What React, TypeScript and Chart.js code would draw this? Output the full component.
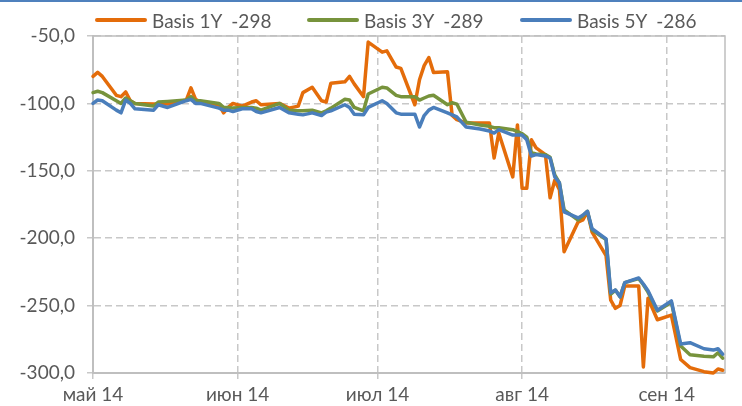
import React, { useEffect, useRef } from 'react';
import { Chart, registerables } from 'chart.js';

Chart.register(...registerables);

// days since 1 May 2014
const days = [0, 1, 2, 5, 6, 7, 8, 9, 13, 14, 16, 20, 21, 22, 23, 27, 28, 29, 30, 32, 34, 35, 36, 40, 42, 44, 45, 47, 49, 50, 51, 54, 55, 56, 58, 59, 62, 63, 65, 66, 69, 70, 71, 72, 73, 76, 77, 78, 80, 83, 85, 86, 87, 90, 91, 92, 93, 94, 95, 97, 98, 99, 100, 101, 104, 105, 106, 107, 110, 111, 112, 113, 114, 117, 118, 119, 121, 124, 126, 128, 131, 133, 134, 135];

const basis1Y = [-80, -77, -80, -94, -95, -91.5, -98, -100, -100.5, -100.5, -100.5, -97.5, -88.5, -97, -99, -101, -107, -103, -100, -102, -99, -98, -101, -100, -103.5, -102, -92, -88, -98, -99, -85, -84, -80, -85.5, -95, -54.5, -62, -61, -73, -74, -101, -82.5, -72, -66, -77, -76.5, -109, -112, -114.5, -114.5, -114.5, -140.5, -122, -154.5, -116, -163, -163, -127, -133, -138, -170, -157, -164, -210, -188, -186.5, -180.5, -195.5, -213, -246, -252, -250, -235.5, -235.5, -295.5, -244.5, -260.5, -257, -290, -296, -299, -300, -297, -298];

const basis3Y = [-92, -91, -92, -98, -100, -96, -98, -100, -102, -99, -98.5, -97.5, -95, -98, -98, -100, -103, -103, -103.5, -103, -103, -103.5, -105, -100, -105, -105.5, -105.5, -105, -107, -105.5, -103.5, -97, -97.5, -103, -105.5, -93, -88, -88.5, -94, -95, -95, -97.5, -96, -94.5, -94, -101, -99.5, -100.5, -114, -116, -117, -118, -118, -119.5, -121, -122.5, -125, -136.5, -137.5, -138, -140, -153, -159, -179, -186.5, -183.5, -180, -194, -201, -241.5, -238.5, -243.5, -233, -230, -234.5, -240, -254, -247.5, -280, -286.5, -287.5, -288, -285, -289];

const basis5Y = [-100, -97.5, -98, -105, -107, -97.5, -100, -104, -105, -101, -103, -98, -97, -100, -100, -103.5, -105, -105, -106, -104, -104, -106, -107, -103, -107, -108, -108.5, -107, -109, -106.5, -105.5, -101, -103, -108, -108.5, -103, -98, -100, -107, -108, -108, -117.5, -109, -105, -103, -107, -108.5, -110, -117.5, -119, -120.5, -122, -119.5, -123.5, -123.5, -123.5, -127, -139, -138, -139, -140.5, -154.5, -159, -180.5, -185, -183, -180, -193, -200.5, -240.5, -238.5, -243.5, -233, -229.5, -234, -239, -253.5, -246.5, -278.5, -277.5, -282, -283, -282, -286];

const monthStarts = [0, 31, 61, 92, 123];
const monthLabels = ['май 14', 'июн 14', 'июл 14', 'авг 14', 'сен 14'];
const yTickValues = [-300, -250, -200, -150, -100, -50];

const seriesNames = ['Basis 1Y  -298', 'Basis 3Y  -289', 'Basis 5Y  -286'];
const seriesValues = [basis1Y, basis3Y, basis5Y];
const seriesColors = ['#E46C0A', '#77933C', '#4A7EBB'];

const FONT = 'Lato, "Open Sans", sans-serif';
const TEXT = '#595959';
const GRID = '#c8c8c8';
const AXIS = '#bfbfbf';

const areaBorder = {
  id: 'areaBorder',
  beforeDatasetsDraw(chart: any) {
    const { ctx, chartArea } = chart;
    ctx.save();
    ctx.strokeStyle = AXIS;
    ctx.lineWidth = 1.5;
    ctx.beginPath();
    ctx.moveTo(chartArea.left, chartArea.top);
    ctx.lineTo(chartArea.right, chartArea.top);
    ctx.lineTo(chartArea.right, chartArea.bottom);
    ctx.stroke();
    ctx.restore();
  },
};

export default function App() {
  const canvasRef = useRef<HTMLCanvasElement | null>(null);

  useEffect(() => {
    document.body.style.margin = '0';
    const canvas = canvasRef.current;
    if (!canvas) return;
    const chart = new Chart(canvas, {
      type: 'line',
      data: {
        datasets: seriesValues.map((vals, i) => ({
          label: seriesNames[i],
          data: days.map((d, j) => ({ x: d, y: vals[j] })),
          borderColor: seriesColors[i],
          backgroundColor: seriesColors[i],
          borderWidth: 3.5,
          pointRadius: 0,
          tension: 0,
          borderJoinStyle: 'round',
          borderCapStyle: 'round',
          order: 3 - i,
          clip: 4,
        })),
      },
      options: {
        animation: false,
        responsive: true,
        maintainAspectRatio: false,
        devicePixelRatio: 1,
        layout: { padding: { top: 36, right: 17, left: 0, bottom: 0 } },
        plugins: {
          legend: { display: false },
          tooltip: { enabled: false },
        },
        scales: {
          x: {
            type: 'linear',
            min: 0,
            max: 135.5,
            afterBuildTicks: (scale: any) => {
              scale.ticks = monthStarts.map((v) => ({ value: v }));
            },
            afterFit: (scale: any) => {
              scale.height = 33;
            },
            ticks: {
              autoSkip: false,
              maxRotation: 0,
              padding: 4,
              color: TEXT,
              font: { family: FONT, size: 19 },
              callback: (v: any) => {
                const k = monthStarts.indexOf(Number(v));
                return k >= 0 ? monthLabels[k] : '';
              },
            },
            grid: {
              color: GRID,
              lineWidth: 1.5,
              drawTicks: true,
              tickLength: 6,
              tickColor: GRID,
            },
            border: { display: true, color: AXIS, width: 2, dash: [7, 4] },
          },
          y: {
            type: 'linear',
            min: -300,
            max: -50,
            afterBuildTicks: (scale: any) => {
              scale.ticks = yTickValues.map((v) => ({ value: v }));
            },
            afterFit: (scale: any) => {
              scale.width = 93;
            },
            ticks: {
              padding: 12,
              color: TEXT,
              font: { family: FONT, size: 19 },
              callback: (v: any) => Number(v).toFixed(1).replace('.', ','),
            },
            grid: {
              color: GRID,
              lineWidth: 1.5,
              drawTicks: true,
              tickLength: 6,
              tickColor: GRID,
            },
            border: { display: true, color: AXIS, width: 2, dash: [7, 4] },
          },
        },
      },
      plugins: [areaBorder],
    } as any);
    return () => chart.destroy();
  }, []);

  const legendLeft = [95, 307, 520];

  return (
    <div style={{ position: 'relative', width: 742, height: 406, background: '#ffffff', overflow: 'hidden' }}>
      <canvas ref={canvasRef} style={{ position: 'absolute', left: 0, top: 0 }} />
      <div style={{ position: 'absolute', left: 0, top: 0, width: 742, height: 2, background: '#4F81BD' }} />
      {seriesNames.map((name, i) => (
        <div
          key={name}
          style={{
            position: 'absolute',
            left: legendLeft[i],
            top: 8,
            height: 24,
            display: 'flex',
            alignItems: 'center',
            fontFamily: FONT,
            fontSize: 19,
            color: TEXT,
            whiteSpace: 'pre',
          }}
        >
          <span style={{ display: 'inline-block', width: 52, height: 4, borderRadius: 2, background: seriesColors[i], marginRight: 5 }} />
          <span>{name}</span>
        </div>
      ))}
    </div>
  );
}
